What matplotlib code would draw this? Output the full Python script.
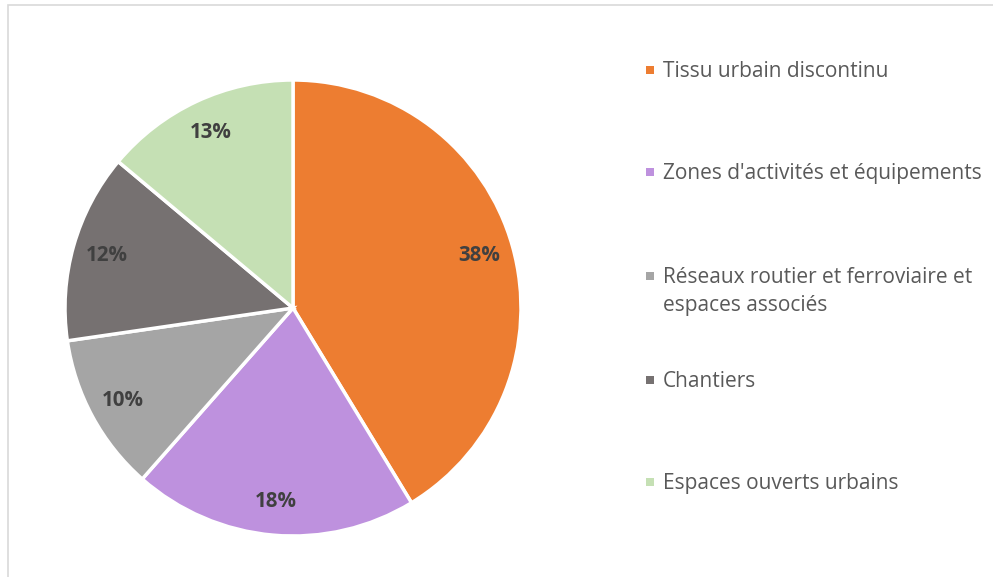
import matplotlib.pyplot as plt
import numpy as np
from matplotlib.patches import Rectangle

categories = ['Tissu urbain discontinu',
              "Zones d'activités et équipements",
              'Réseaux routier et ferroviaire et\nespaces associés',
              'Chantiers',
              'Espaces ouverts urbains']
parts = [41.3, 20.2, 11.2, 13.4, 13.9]
etiquettes = ['38%', '18%', '10%', '12%', '13%']
couleurs = ['#ED7D31', '#BE91DE', '#A5A5A5', '#767171', '#C5E0B4']

W, H = 993, 577
fig = plt.figure(figsize=(W / 100, H / 100), dpi=100)
plt.rcParams['font.family'] = ['Open Sans', 'DejaVu Sans']

# cadre gris clair (coupé à droite et en bas)
fig.add_artist(Rectangle((8 / W, -0.1), 1.2, 1.1 - 5 / H, transform=fig.transFigure,
                         fill=False, edgecolor='#D9D9D9', linewidth=1.2))

# camembert : centre (293, 308) px, rayon 228 px
cx, cy, r = 293, 308, 228
ax = fig.add_axes([(cx - r) / W, (H - cy - r) / H, 2 * r / W, 2 * r / H])
wedges, _ = ax.pie(parts, colors=couleurs, startangle=90, counterclock=False,
                   wedgeprops=dict(edgecolor='white', linewidth=2.5))
ax.set_xlim(-1, 1)
ax.set_ylim(-1, 1)

# étiquettes de pourcentage au milieu de chaque secteur
cumul = np.cumsum([0] + parts)
total = sum(parts)
for i, txt in enumerate(etiquettes):
    mid = 90 - 360 * (cumul[i] + parts[i] / 2) / total
    ang = np.deg2rad(mid)
    ax.text(0.85 * np.cos(ang), 0.85 * np.sin(ang), txt, ha='center', va='center',
            fontsize=14.8, fontweight='bold', color='#404040')

# légende manuelle
ys = [70, 172, 276, 380, 482]
for y, cat, col in zip(ys, categories, couleurs):
    fig.add_artist(Rectangle(((650 - 4) / W, 1 - (y + 4) / H), 8 / W, 8 / H,
                             transform=fig.transFigure, facecolor=col, edgecolor='none'))
    fig.text(663 / W, 1 - (y - 9) / H, cat, ha='left', va='top', fontsize=15,
             color='#595959', linespacing=1.45)

fig.savefig('out.png', dpi=100)
